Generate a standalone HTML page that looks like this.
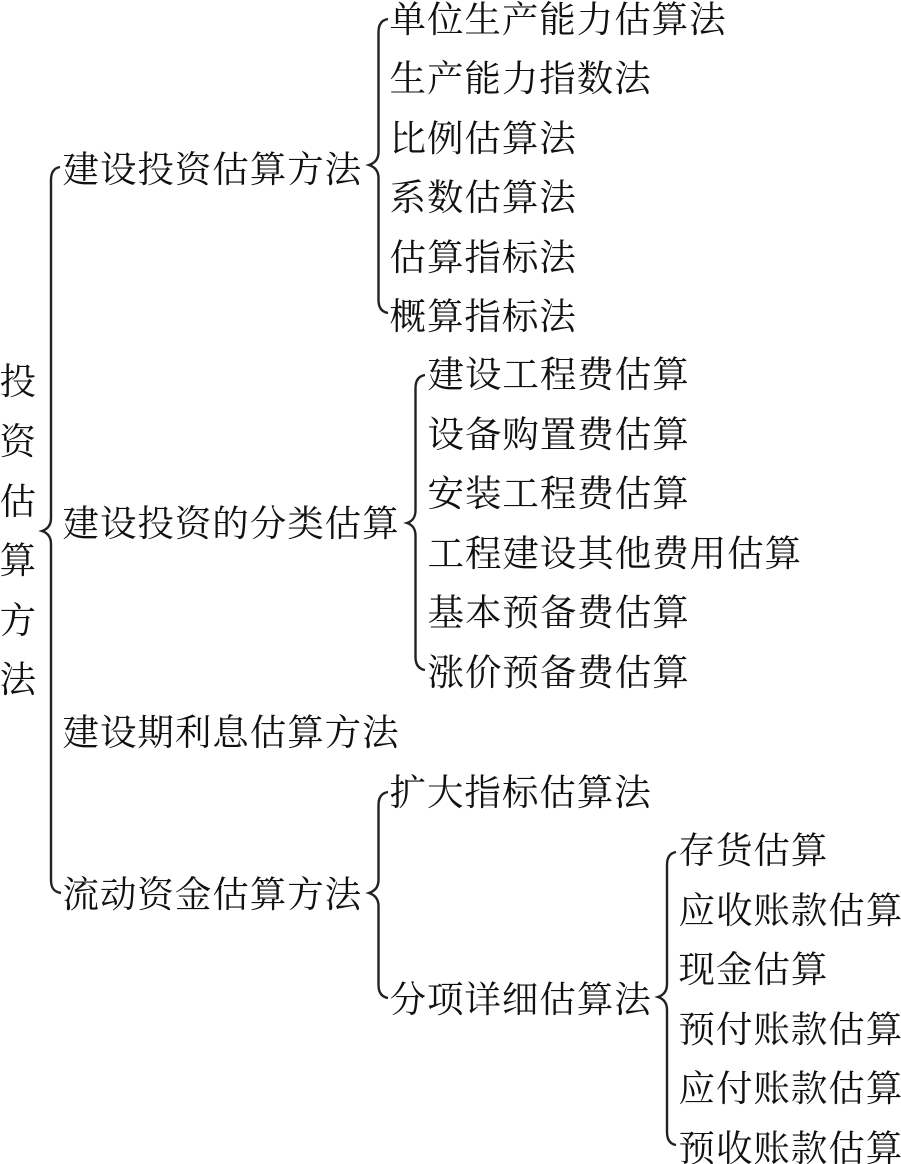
<!DOCTYPE html>
<html lang="zh">
<head>
<meta charset="utf-8">
<style>
html,body{margin:0;padding:0;background:#fff;}
svg{display:block;}
text{font-family:"Liberation Serif","Noto Serif CJK SC",serif;font-size:36.5px;letter-spacing:0.95px;fill:#111;}
path{fill:none;stroke:#222;stroke-width:2.4;}
</style>
</head>
<body>
<svg width="901" height="1164" viewBox="0 0 901 1164" xmlns="http://www.w3.org/2000/svg">
<path d="M60 167C54 168 51 172 51 180L51 518C51 525 48 529 42 531C48 533 51 537 51 544L51 880C51 888 54 892 61 893"/>
<path d="M388 19C382 20 378.500 24 378.500 32L378.500 152C378.500 159 375 163 369 165C375 167 378.500 171 378.500 178L378.500 300C378.500 308 382 312 388 313"/>
<path d="M425 375C419 376 415.500 380 415.500 388L415.500 510C415.500 517 413 521 407 523C413 525 415.500 529 415.500 536L415.500 657C415.500 665 419 669 425 670"/>
<path d="M388 792C382 793 378.500 797 378.500 805L378.500 880C378.500 887 375 891 369 893C375 895 378.500 899 378.500 906L378.500 985C378.500 993 382 997 388 998"/>
<path d="M676 852C670 853 667 857 667 865L667 984C667 991 664 995 658 997C664 999 667 1003 667 1010L667 1132C667 1140 670 1144 676 1145"/>
<g transform="translate(-0.500,2)">
<text x="0" y="392">投</text>
<text x="0" y="452">资</text>
<text x="0" y="512">估</text>
<text x="0" y="571">算</text>
<text x="0" y="631">方</text>
<text x="0" y="690">法</text>
<text x="63" y="180">建设投资估算方法</text>
<text x="63" y="534">建设投资的分类估算</text>
<text x="63" y="743">建设期利息估算方法</text>
<text x="63" y="905">流动资金估算方法</text>
<text x="390" y="30">单位生产能力估算法</text>
<text x="390" y="89">生产能力指数法</text>
<text x="390" y="149">比例估算法</text>
<text x="390" y="208">系数估算法</text>
<text x="390" y="268">估算指标法</text>
<text x="390" y="327">概算指标法</text>
<text x="428" y="385">建设工程费估算</text>
<text x="428" y="445">设备购置费估算</text>
<text x="428" y="504">安装工程费估算</text>
<text x="428" y="564">工程建设其他费用估算</text>
<text x="428" y="623">基本预备费估算</text>
<text x="428" y="683">涨价预备费估算</text>
<text x="390" y="803">扩大指标估算法</text>
<text x="390" y="1010">分项详细估算法</text>
<text x="679" y="861">存货估算</text>
<text x="679" y="921">应收账款估算</text>
<text x="679" y="980">现金估算</text>
<text x="679" y="1040">预付账款估算</text>
<text x="679" y="1099">应付账款估算</text>
<text x="679" y="1159">预收账款估算</text>
</g>
</svg>
</body>
</html>
